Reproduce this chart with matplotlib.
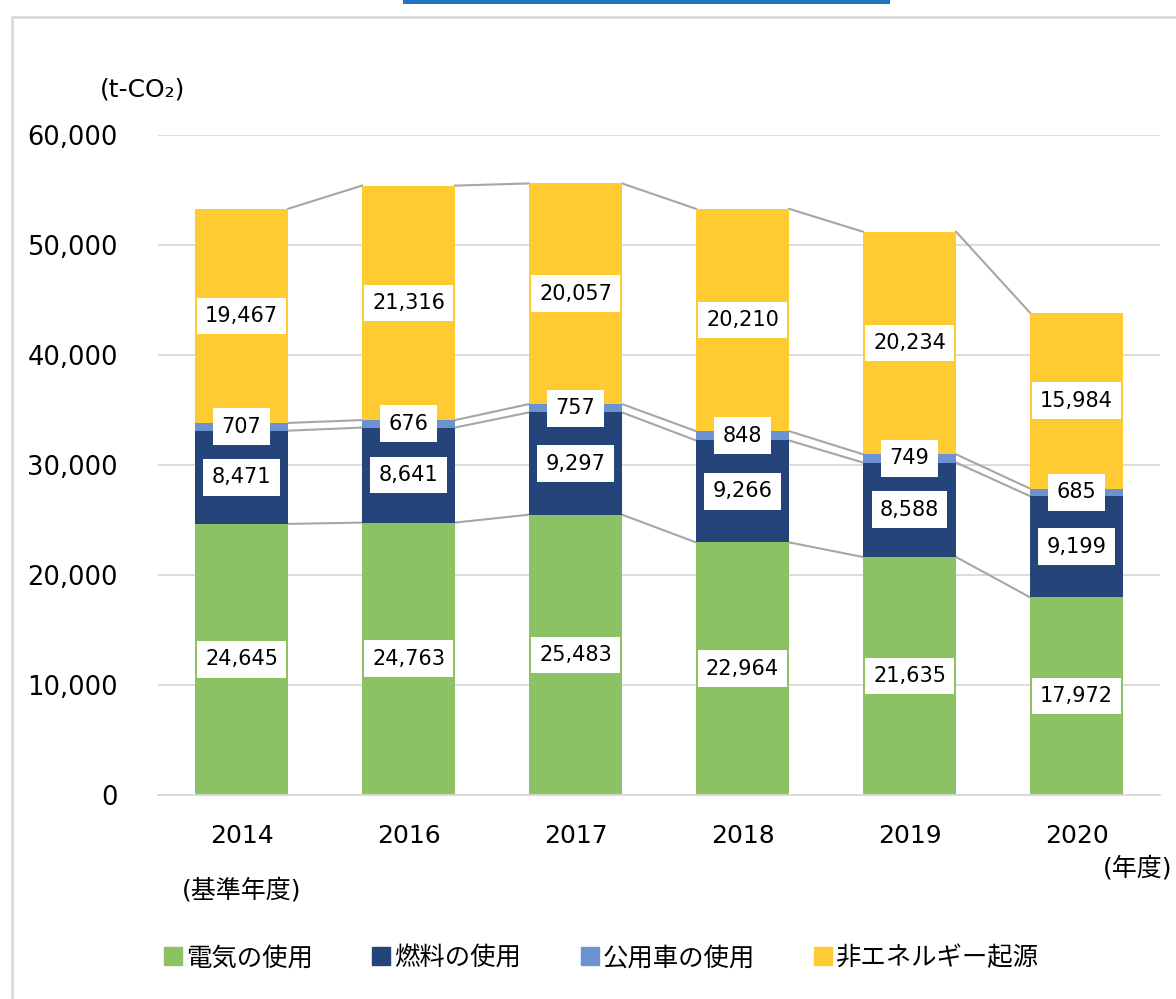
import matplotlib.pyplot as plt
import numpy as np
from matplotlib.patches import Rectangle
from matplotlib.lines import Line2D

plt.rcParams['font.family'] = ['DejaVu Sans', 'Noto Sans CJK JP']

# data
years = ["2014", "2016", "2017", "2018", "2019", "2020"]
elec = [24645, 24763, 25483, 22964, 21635, 17972]
fuel = [8471, 8641, 9297, 9266, 8588, 9199]
car = [707, 676, 757, 848, 749, 685]
non_energy = [19467, 21316, 20057, 20210, 20234, 15984]
series_names = ["電気の使用", "燃料の使用", "公用車の使用", "非エネルギー起源"]
colors = ["#8CC164", "#25457A", "#6C92D2", "#FFCB33"]

series = [elec, fuel, car, non_energy]

fig = plt.figure(figsize=(11.76, 9.99), dpi=100)
ax = fig.add_axes([0.1344, 0.2042, 0.852, 0.6607])

x = np.arange(len(years))
w = 0.557
bottom = np.zeros(len(years))
tops = []
for vals, col in zip(series, colors):
    vals = np.array(vals, dtype=float)
    ax.bar(x, vals, w, bottom=bottom, color=col, zorder=2)
    for xi, b, v in zip(x, bottom, vals):
        ax.text(xi, b + v / 2, f"{int(v):,}", ha="center", va="center", fontsize=15,
                color="black", zorder=4,
                bbox=dict(boxstyle="square,pad=0.4", facecolor="white", edgecolor="none"))
    bottom = bottom + vals
    tops.append(bottom.copy())

# connector lines between bars
for t in tops:
    for i in range(len(years) - 1):
        ax.plot([x[i] + w / 2, x[i + 1] - w / 2], [t[i], t[i + 1]],
                color="#A6A6A6", lw=1.5, zorder=1)

ax.set_xlim(-0.5, len(years) - 0.5)
ax.set_ylim(0, 60000)
ax.set_yticks(np.arange(0, 60001, 10000))
ax.set_yticklabels([f"{v:,}" for v in range(0, 60001, 10000)], fontsize=18.5)
ax.yaxis.grid(True, color="#D9D9D9", lw=1.3, zorder=0)
ax.set_axisbelow(True)
ax.tick_params(axis="y", length=0, pad=29)
ax.tick_params(axis="x", length=0, pad=21)
ax.set_xticks(x)
ax.set_xticklabels(years, fontsize=18)
for s in ["top", "right", "left"]:
    ax.spines[s].set_visible(False)
ax.spines["bottom"].set_color("#D9D9D9")
ax.spines["bottom"].set_linewidth(1.3)

fig.text(143 / 1176, 1 - 90 / 999, "(t-CO₂)", fontsize=18, ha="center", va="center")
fig.text(242 / 1176, 1 - 890 / 999, "(基準年度)", fontsize=18, ha="center", va="center")
fig.text(1138 / 1176, 1 - 868 / 999, "(年度)", fontsize=18, ha="center", va="center")

# legend
handles = [Line2D([], [], marker="s", linestyle="none", markersize=13,
                  markerfacecolor=c, markeredgecolor=c) for c in colors]
fig.legend(handles, series_names, loc="center", bbox_to_anchor=(0.51, 1 - 958 / 999),
           ncol=4, frameon=False, fontsize=18.3, handletextpad=0.0, columnspacing=2.2,
           handlelength=1.0)

# outer frame
fig.patches.append(Rectangle((12 / 1176, -0.01), 1.2, 1 - 17 / 999 + 0.01,
                             transform=fig.transFigure, fill=False,
                             edgecolor="#D9D9D9", lw=2))
# cut-off title strip at the top edge
fig.patches.append(Rectangle((403 / 1176, 1 - 4 / 999), 487 / 1176, 4 / 999,
                             transform=fig.transFigure, facecolor="#1F73C0",
                             edgecolor="none"))

plt.savefig("out.png", dpi=100)
